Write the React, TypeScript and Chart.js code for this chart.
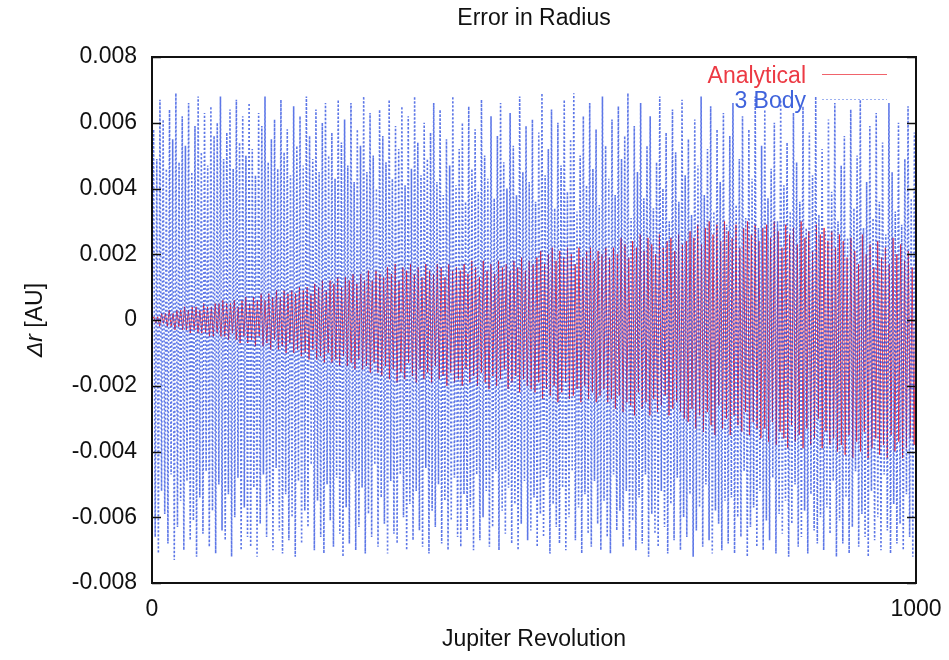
import React, { useEffect, useRef } from 'react';
import { Chart, registerables } from 'chart.js';

Chart.register(...registerables);

const TITLE = 'Error in Radius';
const X_TITLE = 'Jupiter Revolution';
const Y_TITLE_ITALIC = 'Δr';
const Y_TITLE_REST = ' [AU]';

const X_MIN = 0;
const X_MAX = 1000;
const X_TICKS = [0, 1000];
const Y_MIN = -0.008;
const Y_MAX = 0.008;
const Y_TICKS = [-0.008, -0.006, -0.004, -0.002, 0, 0.002, 0.004, 0.006, 0.008];

const SERIES_NAMES = ['Analytical', '3 Body'];

// 3 Body error in radius (AU), evenly sampled over 0..1000 revolutions
const THREE_BODY = [
  0,
  0.0058, -0.0066, 0.0049, -0.0071, 0.0067, -0.0052, 0.0061, -0.0059, 0.0046, -0.0068,
  0.0064, -0.0047, 0.0055, -0.0073, 0.0069, -0.0063, 0.0048, -0.0055, 0.0062, -0.0070,
  0.0053, -0.0049, 0.0066, -0.0067, 0.0045, -0.0061, 0.0059, -0.0072, 0.0068, -0.0054,
  0.0051, -0.0065, 0.0063, -0.0046, 0.0047, -0.0069, 0.0065, -0.0058, 0.0056, -0.0071,
  0.0060, -0.0050, 0.0068, -0.0064, 0.0049, -0.0067, 0.0057, -0.0053, 0.0064, -0.0072,
  0.0046, -0.0060, 0.0067, -0.0048, 0.0054, -0.0070, 0.0062, -0.0057, 0.0050, -0.0066,
  0.0066, -0.0069, 0.0052, -0.0051, 0.0044, -0.0072, 0.0063, -0.0062, 0.0059, -0.0047,
  0.0068, -0.0066, 0.0048, -0.0056, 0.0055, -0.0070, 0.0061, -0.0045, 0.0046, -0.0064,
  0.0067, -0.0071, 0.0051, -0.0053, 0.0058, -0.0067, 0.0044, -0.0060, 0.0065, -0.0072,
  0.0053, -0.0049, 0.0062, -0.0068, 0.0047, -0.0058, 0.0068, -0.0063, 0.0056, -0.0044,
  0.0049, -0.0070, 0.0064, -0.0055, 0.0045, -0.0066, 0.0060, -0.0071, 0.0066, -0.0050,
  0.0050, -0.0061, 0.0057, -0.0069, 0.0043, -0.0048, 0.0067, -0.0065, 0.0054, -0.0072,
  0.0061, -0.0057, 0.0047, -0.0068, 0.0066, -0.0046, 0.0042, -0.0070, 0.0058, -0.0063,
  0.0053, -0.0051, 0.0068, -0.0071, 0.0045, -0.0059, 0.0063, -0.0066, 0.0050, -0.0044,
  0.0040, -0.0069, 0.0064, -0.0054, 0.0056, -0.0062, 0.0048, -0.0071, 0.0067, -0.0049,
  0.0043, -0.0065, 0.0059, -0.0068, 0.0052, -0.0047, 0.0065, -0.0060, 0.0041, -0.0070,
  0.0062, -0.0056, 0.0046, -0.0067, 0.0068, -0.0052, 0.0054, -0.0064, 0.0044, -0.0069,
  0.0060, -0.0045, 0.0049, -0.0071, 0.0057, -0.0058, 0.0066, -0.0063, 0.0042, -0.0050,
  0.0064, -0.0068, 0.0038, -0.0055, 0.0055, -0.0070, 0.0047, -0.0061, 0.0068, -0.0048,
  0.0041, -0.0066, 0.0052, -0.0069, 0.0060, -0.0053, 0.0036, -0.0064, 0.0065, -0.0057,
  0.0046, -0.0070, 0.0058, -0.0047, 0.0039, -0.0067, 0.0067, -0.0060, 0.0050, -0.0052,
  0.0043, -0.0069, 0.0062, -0.0063, 0.0037, -0.0046, 0.0056, -0.0070, 0.0066, -0.0058,
  0.0048, -0.0065, 0.0040, -0.0051, 0.0063, -0.0068, 0.0053, -0.0056, 0.0038, -0.0070,
  0.0068, -0.0062, 0.0045, -0.0049, 0.0059, -0.0067, 0.0042, -0.0064, 0.0061, -0.0054,
  0.0036, -0.0069, 0.0057, -0.0059, 0.0069, -0.0066, 0.0044, -0.0048, 0.0052, -0.0071,
  0.0064, -0.0056, 0.0034, -0.0063, 0.0060, -0.0068, 0.0047, -0.0051, 0.0067, -0.0070,
  0.0039, -0.0060, 0.0055, -0.0046, 0.0069, -0.0067, 0.0033, -0.0057, 0.0050, -0.0071,
  0.0062, -0.0053, 0.0041, -0.0065, 0.0066, -0.0069, 0.0046, -0.0049, 0.0058, -0.0062,
  0.0035, -0.0070, 0.0068, -0.0055, 0.0053, -0.0066, 0.0043, -0.0071, 0.0061, -0.0047,
  0.0038, -0.0064, 0.0065, -0.0058, 0.0049, -0.0069, 0.0056, -0.0052, 0.0069, -0.0067,
  0.0031, -0.0061, 0.0059, -0.0070, 0.0045, -0.0054, 0.0066, -0.0068, 0.0037, -0.0047,
  0.0053, -0.0072, 0.0062, -0.0059, 0.0034, -0.0065, 0.0048, -0.0069, 0.0068, -0.0052,
  0.0040, -0.0063, 0.0057, -0.0071, 0.0030, -0.0056, 0.0064, -0.0067, 0.0051, -0.0048,
  0.0036, -0.0070, 0.0067, -0.0060, 0.0044, -0.0066, 0.0055, -0.0053, 0.0032, -0.0072,
  0.0061, -0.0064, 0.0047, -0.0057, 0.0068, -0.0069, 0.0038, -0.0050, 0.0052, -0.0067,
  0.0065, -0.0071, 0.0033, -0.0058, 0.0058, -0.0062, 0.0042, -0.0070, 0.0063, -0.0055,
  0.0029, -0.0068, 0.0056, -0.0054, 0.0066, -0.0071, 0.0035, -0.0060, 0.0049, -0.0066,
  0.0062, -0.0046, 0.0031, -0.0072, 0.0058, -0.0063, 0.0043, -0.0057, 0.0068, -0.0069,
  0.0028, -0.0052, 0.0053, -0.0070, 0.0064, -0.0061, 0.0037, -0.0067, 0.0046, -0.0048,
  0.0060, -0.0071, 0.0030, -0.0059, 0.0067, -0.0065, 0.0041, -0.0055, 0.0054, -0.0072,
  0.0033, -0.0062, 0.0063, -0.0050, 0.0048, -0.0069, 0.0036, -0.0066, 0.0065, -0.0058,
  0.0028, -0.0071, 0.0057, -0.0053, 0.0044, -0.0064, 0.0068, -0.0068, 0.0032, -0.0060,
  0.0052, -0.0070, 0.0027, -0.0057, 0.0061, -0.0065, 0.0039, -0.0049, 0.0066, -0.0072,
  0.0030, -0.0061, 0.0047, -0.0068, 0.0056, -0.0054, 0.0025, -0.0071, 0.0064, -0.0063,
  0.0034, -0.0046, 0.0050, -0.0069, 0.0067, -0.0059, 0.0028, -0.0066, 0.0042, -0.0072,
  0.0059, -0.0052, 0.0031, -0.0067, 0.0063, -0.0060, 0.0036, -0.0070, 0.0054, -0.0047,
  0.0026, -0.0064, 0.0066, -0.0071, 0.0045, -0.0056, 0.0033, -0.0068, 0.0060, -0.0062,
  0.0029, -0.0070, 0.0049, -0.0053, 0.0065, -0.0066, 0.0037, -0.0072, 0.0057, -0.0058,
];

// Analytical error in radius (AU), evenly sampled over 0..1000 revolutions
const ANALYTICAL = [
  0, 0.0001, -0.0001, 0.0001, -0.0002, 0.0002, -0.0001, 0.0002, -0.0002, 0.0003,
  -0.0002, 0.0002, -0.0003, 0.0003, -0.0002, 0.0003, -0.0003, 0.0004, -0.0003, 0.0003,
  -0.0004, 0.0004, -0.0003, 0.0004, -0.0004, 0.0003, -0.0004, 0.0005, -0.0004, 0.0004,
  -0.0005, 0.0004, -0.0005, 0.0005, -0.0004, 0.0005, -0.0005, 0.0006, -0.0005, 0.0005,
  -0.0006, 0.0005, -0.0004, 0.0006, -0.0006, 0.0004, -0.0007, 0.0006, -0.0005, 0.0007,
  -0.0007, 0.0005, -0.0006, 0.0007, -0.0008, 0.0006, -0.0005, 0.0008, -0.0008, 0.0006,
  -0.0007, 0.0008, -0.0009, 0.0007, -0.0006, 0.0009, -0.0009, 0.0007, -0.0008, 0.0009,
  -0.0010, 0.0008, -0.0007, 0.0009, -0.0010, 0.0008, -0.0009, 0.0010, -0.0011, 0.0009,
  -0.0010, 0.0010, -0.0012, 0.0008, -0.0009, 0.0011, -0.0012, 0.0010, -0.0011, 0.0012,
  -0.0013, 0.0009, -0.0010, 0.0012, -0.0013, 0.0011, -0.0012, 0.0013, -0.0014, 0.0010,
  -0.0011, 0.0013, -0.0014, 0.0012, -0.0013, 0.0014, -0.0015, 0.0011, -0.0012, 0.0014,
  -0.0015, 0.0012, -0.0014, 0.0015, -0.0016, 0.0012, -0.0013, 0.0015, -0.0016, 0.0014,
  -0.0017, 0.0013, -0.0014, 0.0016, -0.0018, 0.0014, -0.0015, 0.0017, -0.0019, 0.0012,
  -0.0016, 0.0016, -0.0018, 0.0015, -0.0013, 0.0017, -0.0017, 0.0014, -0.0019, 0.0016,
  -0.0015, 0.0013, -0.0018, 0.0017, -0.0016, 0.0015, -0.0019, 0.0014, -0.0014, 0.0017,
  -0.0018, 0.0016, -0.0017, 0.0013, -0.0020, 0.0017, -0.0016, 0.0015, -0.0019, 0.0016,
  -0.0018, 0.0015, -0.0020, 0.0017, -0.0015, 0.0014, -0.0019, 0.0018, -0.0017, 0.0016,
  -0.0020, 0.0013, -0.0016, 0.0018, -0.0019, 0.0015, -0.0021, 0.0017, -0.0017, 0.0014,
  -0.0020, 0.0018, -0.0018, 0.0016, -0.0015, 0.0017, -0.0021, 0.0015, -0.0019, 0.0018,
  -0.0017, 0.0016, -0.0022, 0.0019, -0.0018, 0.0015, -0.0020, 0.0018, -0.0021, 0.0017,
  -0.0022, 0.0019, -0.0019, 0.0021, -0.0024, 0.0017, -0.0021, 0.0020, -0.0023, 0.0022,
  -0.0020, 0.0018, -0.0025, 0.0021, -0.0022, 0.0019, -0.0019, 0.0022, -0.0024, 0.0020,
  -0.0023, 0.0017, -0.0021, 0.0022, -0.0025, 0.0019, -0.0020, 0.0021, -0.0024, 0.0022,
  -0.0022, 0.0018, -0.0025, 0.0021, -0.0023, 0.0020, -0.0021, 0.0022, -0.0025, 0.0019,
  -0.0024, 0.0022, -0.0027, 0.0020, -0.0023, 0.0025, -0.0028, 0.0023, -0.0025, 0.0019,
  -0.0026, 0.0024, -0.0029, 0.0022, -0.0022, 0.0026, -0.0027, 0.0021, -0.0025, 0.0025,
  -0.0029, 0.0023, -0.0024, 0.0020, -0.0028, 0.0026, -0.0026, 0.0022, -0.0023, 0.0024,
  -0.0029, 0.0025, -0.0027, 0.0021, -0.0025, 0.0026, -0.0028, 0.0023, -0.0030, 0.0024,
  -0.0031, 0.0027, -0.0027, 0.0025, -0.0033, 0.0029, -0.0029, 0.0023, -0.0034, 0.0028,
  -0.0028, 0.0030, -0.0032, 0.0026, -0.0035, 0.0029, -0.0026, 0.0024, -0.0033, 0.0030,
  -0.0030, 0.0027, -0.0035, 0.0025, -0.0029, 0.0029, -0.0032, 0.0022, -0.0034, 0.0028,
  -0.0028, 0.0030, -0.0035, 0.0026, -0.0031, 0.0029, -0.0033, 0.0024, -0.0036, 0.0028,
  -0.0033, 0.0029, -0.0037, 0.0025, -0.0031, 0.0030, -0.0038, 0.0027, -0.0034, 0.0022,
  -0.0036, 0.0029, -0.0039, 0.0026, -0.0032, 0.0028, -0.0037, 0.0023, -0.0035, 0.0030,
  -0.0039, 0.0025, -0.0033, 0.0027, -0.0038, 0.0021, -0.0036, 0.0029, -0.0030, 0.0026,
  -0.0039, 0.0028, -0.0034, 0.0024, -0.0038, 0.0027, -0.0036, 0.0022, -0.0040, 0.0026,
  -0.0038, 0.0024, -0.0041, 0.0019, -0.0035, 0.0025, -0.0042, 0.0021, -0.0037, 0.0017,
  -0.0040, 0.0026, -0.0034, 0.0020, -0.0042, 0.0023, -0.0039, 0.0016, -0.0036, 0.0024,
  -0.0041, 0.0019, -0.0038, 0.0022, -0.0042, 0.0017, -0.0035, 0.0025, -0.0040, 0.0020,
  -0.0037, 0.0023, -0.0042, 0.0018, -0.0039, 0.0021, -0.0036, 0.0016, -0.0038, 0.0018,
];

const FONT = "'Liberation Sans', Arial, Helvetica, sans-serif";
const RED = 'rgba(236, 36, 50, 0.85)';
const BLUE = 'rgba(30, 66, 222, 0.72)';
const RED_TEXT = '#ec3a44';
const BLUE_TEXT = '#3f63dc';

function toPoints(vals: number[]) {
  const n = vals.length;
  return vals.map((y, i) => ({ x: X_MIN + ((X_MAX - X_MIN) * i) / (n - 1), y }));
}

const framePlugin = {
  id: 'frameAndLabels',
  afterDraw(chart: any) {
    const { ctx, chartArea } = chart;
    const { left, right, top, bottom } = chartArea;
    const yScale = chart.scales.y;
    ctx.save();
    ctx.strokeStyle = '#111';
    ctx.lineWidth = 2;
    ctx.strokeRect(left, top, right - left, bottom - top);
    ctx.lineWidth = 1.5;
    for (const v of Y_TICKS) {
      const y = Math.round(yScale.getPixelForValue(v)) + 0.5;
      ctx.beginPath();
      ctx.moveTo(left, y);
      ctx.lineTo(left + 9, y);
      ctx.moveTo(right - 9, y);
      ctx.lineTo(right, y);
      ctx.stroke();
    }
    ctx.fillStyle = '#111';
    ctx.font = `23px ${FONT}`;
    ctx.textAlign = 'center';
    ctx.textBaseline = 'middle';
    const cx = (left + right) / 2;
    ctx.fillText(TITLE, cx, 19);
    ctx.fillText(X_TITLE, cx, 640);
    ctx.save();
    ctx.translate(36, (top + bottom) / 2);
    ctx.rotate(-Math.PI / 2);
    ctx.font = `italic 23px ${FONT}`;
    const w1 = ctx.measureText(Y_TITLE_ITALIC).width;
    ctx.font = `23px ${FONT}`;
    const w2 = ctx.measureText(Y_TITLE_REST).width;
    const start = -(w1 + w2) / 2;
    ctx.textAlign = 'left';
    ctx.font = `italic 23px ${FONT}`;
    ctx.fillText(Y_TITLE_ITALIC, start, 0);
    ctx.font = `23px ${FONT}`;
    ctx.fillText(Y_TITLE_REST, start + w1, 0);
    ctx.restore();
    ctx.font = `23px ${FONT}`;
    ctx.textAlign = 'right';
    ctx.textBaseline = 'alphabetic';
    ctx.fillStyle = RED_TEXT;
    ctx.fillText(SERIES_NAMES[0], 806, 83);
    ctx.fillStyle = BLUE_TEXT;
    ctx.fillText(SERIES_NAMES[1], 806, 108);
    ctx.strokeStyle = 'rgba(236, 60, 70, 0.8)';
    ctx.lineWidth = 1.2;
    ctx.beginPath();
    ctx.moveTo(822, 74.5);
    ctx.lineTo(887, 74.5);
    ctx.stroke();
    ctx.strokeStyle = 'rgba(60, 100, 226, 0.5)';
    ctx.setLineDash([2, 2]);
    ctx.beginPath();
    ctx.moveTo(822, 99.5);
    ctx.lineTo(887, 99.5);
    ctx.stroke();
    ctx.restore();
  },
};

export default function App() {
  const canvasRef = useRef<HTMLCanvasElement | null>(null);

  useEffect(() => {
    document.body.style.margin = '0';
    const canvas = canvasRef.current;
    if (!canvas) return;
    const chart = new Chart(canvas, {
      type: 'line',
      data: {
        datasets: [
          {
            label: SERIES_NAMES[1],
            data: toPoints(THREE_BODY),
            borderColor: BLUE,
            borderWidth: 1.6,
            borderDash: [2, 2],
            pointRadius: 0,
            tension: 0,
            fill: false,
          },
          {
            label: SERIES_NAMES[0],
            data: toPoints(ANALYTICAL),
            borderColor: RED,
            borderWidth: 1,
            pointRadius: 0,
            tension: 0,
            fill: false,
          },
        ],
      },
      options: {
        responsive: false,
        animation: false,
        parsing: false,
        normalized: true,
        layout: { padding: { top: 57, right: 33, left: 0, bottom: 0 } },
        plugins: {
          legend: { display: false },
          title: { display: false },
          tooltip: { enabled: false },
        },
        events: [],
        scales: {
          x: {
            type: 'linear',
            min: X_MIN,
            max: X_MAX,
            grid: { display: false, drawTicks: false },
            border: { display: false },
            afterBuildTicks: (s: any) => {
              s.ticks = X_TICKS.map((v) => ({ value: v }));
            },
            afterFit: (s: any) => {
              s.height = 77;
              s.paddingLeft = 0;
              s.paddingRight = 0;
            },
            ticks: {
              color: '#111',
              font: { family: FONT, size: 23 },
              padding: 13,
              maxRotation: 0,
              autoSkip: false,
              callback: (v: any) => String(v),
            },
          },
          y: {
            type: 'linear',
            min: Y_MIN,
            max: Y_MAX,
            grid: { display: false, drawTicks: false },
            border: { display: false },
            afterBuildTicks: (s: any) => {
              s.ticks = Y_TICKS.map((v) => ({ value: v }));
            },
            afterFit: (s: any) => {
              s.width = 152;
              s.paddingTop = 0;
              s.paddingBottom = 0;
            },
            ticks: {
              color: '#111',
              font: { family: FONT, size: 23 },
              padding: 15,
              autoSkip: false,
              callback: (v: any) => (Math.abs(v) < 1e-12 ? '0' : Number(v).toFixed(3)),
            },
          },
        },
      },
      plugins: [framePlugin],
    } as any);
    return () => chart.destroy();
  }, []);

  return (
    <div style={{ width: 949, height: 660, background: '#fff' }}>
      <canvas ref={canvasRef} width={949} height={660} style={{ display: 'block' }} />
    </div>
  );
}
